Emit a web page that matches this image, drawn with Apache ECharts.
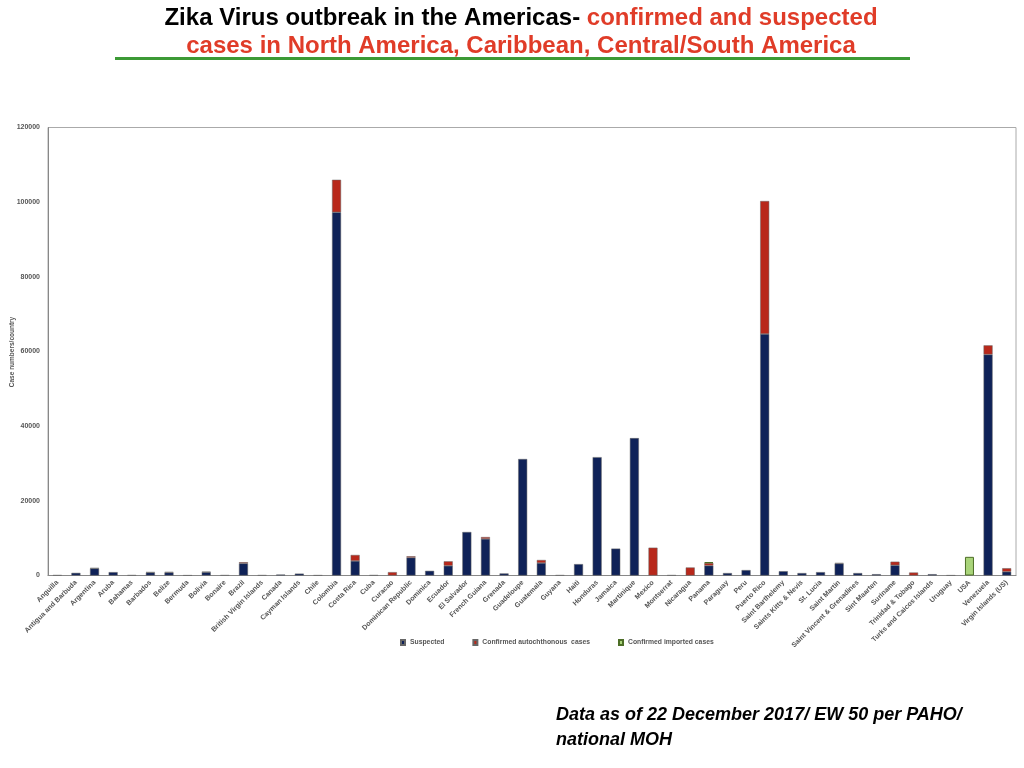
<!DOCTYPE html>
<html>
<head>
<meta charset="utf-8">
<title>Zika Virus outbreak in the Americas</title>
<script src="https://cdn.jsdelivr.net/npm/echarts@6/dist/echarts.min.js"></script>
<style>
  html, body { margin: 0; padding: 0; background: #fff; }
  #main { width: 1024px; height: 768px; }
</style>
</head>
<body>
<div id="main"></div>
<script>
// data
var countries = ['Anguilla', 'Antigua and Barbuda', 'Argentina', 'Aruba', 'Bahamas', 'Barbados', 'Belize',
  'Bermuda', 'Bolivia', 'Bonaire', 'Brazil', 'British Virgin Islands', 'Canada', 'Cayman Islands', 'Chile',
  'Colombia', 'Costa Rica', 'Cuba', 'Curacao', 'Dominican Republic', 'Dominica', 'Ecuador', 'El Salvador',
  'French Guiana', 'Grenada', 'Guadeloupe', 'Guatemala', 'Guyana', 'Haiti', 'Honduras', 'Jamaica',
  'Martinique', 'Mexico', 'Montserrat', 'Nicaragua', 'Panama', 'Paraguay', 'Peru', 'Puerto Rico',
  'Saint Barthelemy', 'Saints Kitts & Nevis', 'St. Lucia', 'Saint Martin', 'Saint Vincent & Grenadines',
  'Sint Maarten', 'Suriname', 'Trinidad & Tobago', 'Turks and Caicos Islands', 'Uruguay', 'USA',
  'Venezuela', 'Virgin Islands (US)'];

var suspected = [100, 700, 1900, 900, 100, 800, 800,
  50, 900, 80, 3250, 80, 250, 500, 60,
  97300, 3900, 100, 0, 4800, 1250, 2600, 11650,
  9800, 550, 31200, 3350, 80, 3050, 31700, 7200,
  36800, 0, 80, 0, 2650, 650, 1450, 64700,
  1150, 650, 900, 3200, 650,
  350, 2750, 0, 350, 50, 0,
  59200, 1000];

var confirmedAuto = [0, 0, 100, 0, 0, 100, 150,
  0, 100, 0, 300, 0, 0, 0, 0,
  8700, 1600, 0, 900, 350, 0, 1200, 0,
  500, 0, 0, 800, 0, 0, 0, 0,
  0, 7450, 0, 2150, 700, 0, 0, 35600,
  0, 0, 0, 150, 0,
  0, 950, 800, 0, 0, 0,
  2450, 950];

var confirmedImported = [0, 0, 0, 0, 0, 0, 0,
  0, 0, 0, 0, 0, 0, 0, 0,
  0, 0, 0, 0, 0, 0, 0, 0,
  0, 0, 0, 0, 0, 0, 0, 0,
  0, 0, 0, 0, 200, 0, 0, 0,
  0, 0, 0, 0, 0,
  0, 0, 0, 0, 0, 5000,
  0, 0];

var yTicks = [0, 20000, 40000, 60000, 80000, 100000, 120000];

// empty segments would still draw their border, so leave them out
function skipZero(v) { return v === 0 ? null : v; }

var chart = echarts.init(document.getElementById('main'));

var tinyFont = 'Liberation Sans, Arial, sans-serif';

chart.setOption({
  animation: false,
  graphic: [
    {
      type: 'text',
      x: 521,
      y: 18,
      style: {
        text: '{a|Zika Virus outbreak in the Americas- }{b|confirmed and suspected}',
        align: 'center',
        verticalAlign: 'middle',
        rich: {
          a: { fontFamily: tinyFont, fontWeight: 'bold', fontSize: 24, fill: '#000' },
          b: { fontFamily: tinyFont, fontWeight: 'bold', fontSize: 24, fill: '#e03c28' }
        }
      }
    },
    {
      type: 'text',
      x: 521,
      y: 46,
      style: {
        text: 'cases in North America, Caribbean, Central/South America',
        align: 'center',
        verticalAlign: 'middle',
        fontFamily: tinyFont,
        fontWeight: 'bold',
        fontSize: 24,
        fill: '#e03c28'
      }
    },
    {
      type: 'rect',
      shape: { x: 115, y: 57, width: 795, height: 3 },
      style: { fill: '#3c9a35' }
    },
    {
      // y axis title
      type: 'text',
      x: 12,
      y: 352,
      rotation: Math.PI / 2,
      style: {
        text: 'Case numbers/country',
        align: 'center',
        verticalAlign: 'middle',
        fontFamily: tinyFont,
        fontWeight: 'bold',
        fontSize: 6.5,
        fill: '#555'
      }
    },
    {
      type: 'text',
      left: 556,
      top: 703,
      style: {
        text: 'Data as of 22 December 2017/ EW 50 per PAHO/\nnational MOH',
        fontFamily: tinyFont,
        fontWeight: 'bold',
        fontStyle: 'italic',
        fontSize: 18,
        lineHeight: 25,
        fill: '#000'
      }
    }
  ],
  legend: {
    left: 395,
    top: 634,
    icon: 'rect',
    itemWidth: 4,
    itemHeight: 5,
    itemGap: 28,
    textStyle: { fontFamily: tinyFont, fontSize: 6.8, fontWeight: 'bold', color: '#555' },
    data: ['Suspected', 'Confirmed autochthonous  cases', 'Confirmed imported cases']
  },
  grid: {
    left: 48,
    right: 8,
    top: 127.5,
    bottom: 192.5,
    outerBoundsMode: 'none',
    containLabel: false,
    show: true,
    borderColor: '#aaa',
    borderWidth: 1
  },
  xAxis: {
    type: 'category',
    data: countries,
    axisLine: { lineStyle: { color: '#888' } },
    axisTick: { show: false },
    axisLabel: {
      interval: 0,
      rotate: 45,
      fontFamily: tinyFont,
      fontSize: 7,
      fontWeight: 'bold',
      color: '#555',
      margin: 6
    }
  },
  yAxis: {
    type: 'value',
    min: yTicks[0],
    max: yTicks[yTicks.length - 1],
    interval: 20000,
    axisLine: { show: true, lineStyle: { color: '#888' } },
    axisTick: { show: false },
    splitLine: { show: false },
    axisLabel: {
      fontFamily: tinyFont, fontSize: 7, fontWeight: 'bold', color: '#555', margin: 8,
      formatter: function (v) { return String(v); }
    }
  },
  series: [
    {
      name: 'Suspected',
      type: 'bar',
      stack: 'cases',
      barWidth: 9,
      data: suspected.map(skipZero),
      itemStyle: { color: '#0f2258', borderColor: '#666', borderWidth: 0.5 }
    },
    {
      name: 'Confirmed autochthonous  cases',
      type: 'bar',
      stack: 'cases',
      barWidth: 9,
      data: confirmedAuto.map(skipZero),
      itemStyle: { color: '#b8281b', borderColor: '#666', borderWidth: 0.5 }
    },
    {
      name: 'Confirmed imported cases',
      type: 'bar',
      stack: 'cases',
      barWidth: 9,
      data: confirmedImported.map(skipZero),
      itemStyle: { color: '#a9d47a', borderColor: '#4d6e27', borderWidth: 1 }
    }
  ]
});
</script>
</body>
</html>
